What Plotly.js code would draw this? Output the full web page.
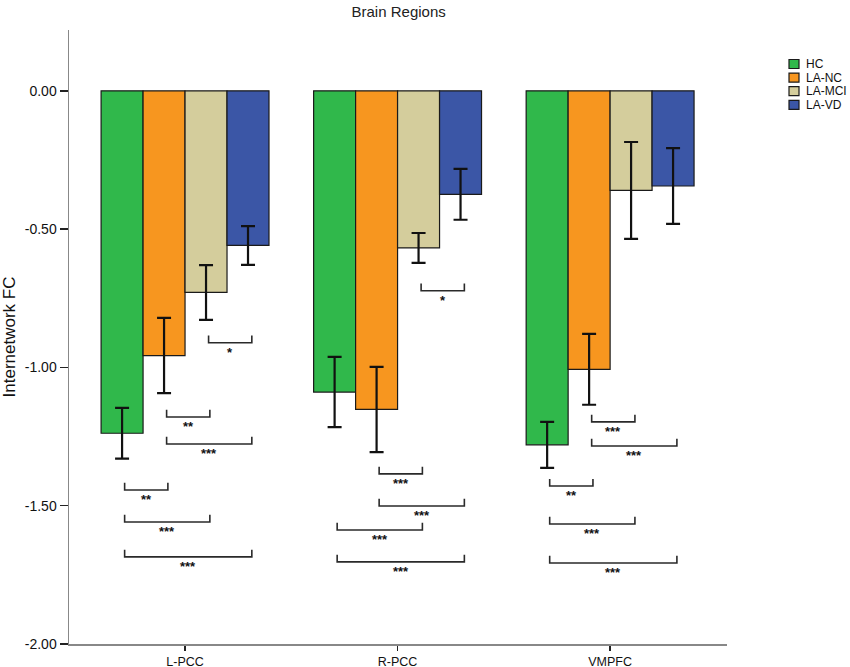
<!DOCTYPE html>
<html>
<head>
<meta charset="utf-8">
<script src="https://cdn.plot.ly/plotly-3.0.1.min.js"></script>
<style>html,body{margin:0;padding:0;background:#fff;}#chart{width:850px;height:667px;}</style>
</head>
<body>
<div id="chart"></div>
<script>
// ---- data ----
const categories = ["L-PCC", "R-PCC", "VMPFC"];
const seriesNames = ["HC", "LA-NC", "LA-MCI", "LA-VD"];
const hcValues    = [-1.238, -1.089, -1.280];
const lancValues  = [-0.957, -1.152, -1.007];
const lamciValues = [-0.729, -0.568, -0.360];
const lavdValues  = [-0.559, -0.374, -0.344];
const hcErr    = [0.092, 0.127, 0.083];
const lancErr  = [0.136, 0.154, 0.128];
const lamciErr = [0.099, 0.054, 0.175];
const lavdErr  = [0.070, 0.092, 0.137];
const yTickVals = [0, -0.5, -1, -1.5, -2];
const yTickText = ["0.00", "-0.50", "-1.00", "-1.50", "-2.00"];
// significance brackets: category index, from series, to series, level, label
const bracketGroup = [0, 0, 0, 0, 0, 0, 1, 1, 1, 1, 1, 2, 2, 2, 2, 2];
const bracketFrom  = [2, 1, 1, 0, 0, 0, 2, 1, 1, 0, 0, 1, 1, 0, 0, 0];
const bracketTo    = [3, 2, 3, 1, 2, 3, 3, 2, 3, 2, 3, 2, 3, 1, 2, 3];
const bracketLevel = [-0.911, -1.179, -1.277, -1.443, -1.559, -1.685,
                      -0.723, -1.385, -1.501, -1.588, -1.703,
                      -1.197, -1.284, -1.429, -1.566, -1.707];
const bracketLabel = ["*", "**", "***", "**", "***", "***",
                      "*", "***", "***", "***", "***",
                      "***", "***", "**", "***", "***"];

// ---- styles ----
const colors = ["#30b84b", "#f7961f", "#d4cd9c", "#3b56a6"];
const values = [hcValues, lancValues, lamciValues, lavdValues];
const errs = [hcErr, lancErr, lamciErr, lavdErr];
const bargap = 0.21;
const barW = (1 - bargap) / 4;
const xIdx = categories.map((c, i) => i);
const FONT = "Arial, Liberation Sans, sans-serif";

const traces = seriesNames.map((name, s) => ({
  type: "bar",
  name: name,
  x: xIdx,
  y: values[s],
  marker: {color: colors[s], line: {color: "#1a1a1a", width: 1.2}},
  error_y: {type: "data", array: errs[s], symmetric: true, color: "#111", thickness: 2.2, width: 7},
  hoverinfo: "skip",
  showlegend: false
}));

function barCenter(g, s) { return g + (s - 1.5) * barW; }

const shapes = [];
const annotations = [];
const tickH = 0.026;
for (let k = 0; k < bracketGroup.length; k++) {
  const x0 = barCenter(bracketGroup[k], bracketFrom[k]) + 0.012;
  const x1 = barCenter(bracketGroup[k], bracketTo[k]) + 0.018;
  const y = bracketLevel[k];
  shapes.push({type: "path", xref: "x", yref: "y",
    path: `M ${x0} ${y + tickH} L ${x0} ${y} L ${x1} ${y} L ${x1} ${y + tickH}`,
    line: {color: "#2a2a2a", width: 1.6}});
  annotations.push({xref: "x", yref: "y", x: (x0 + x1) / 2, y: y, text: "<b>" + bracketLabel[k] + "</b>",
    showarrow: false, yanchor: "top", yshift: 0,
    font: {family: FONT, size: 13, color: "#111"}});
}

// custom legend (paper coordinates)
const plotL = 69, plotW = 658, plotT = 30, plotH = 614;
const px2x = p => (p - plotL) / plotW;
const py2y = p => (plotT + plotH - p) / plotH;
seriesNames.forEach((name, s) => {
  const cy = 64 + s * 13.6;
  shapes.push({type: "rect", xref: "paper", yref: "paper",
    x0: px2x(789), x1: px2x(799), y0: py2y(cy + 4.5), y1: py2y(cy - 4.5),
    fillcolor: colors[s], line: {color: "#1a1a1a", width: 1.2}});
  annotations.push({xref: "paper", yref: "paper", x: px2x(804), y: py2y(cy), text: name,
    showarrow: false, xanchor: "left", yanchor: "middle",
    font: {family: FONT, size: 12, color: "#111"}});
});

const layout = {
  width: 850, height: 667,
  margin: {l: plotL, r: 850 - plotL - plotW, t: plotT, b: 667 - plotT - plotH, autoexpand: false},
  paper_bgcolor: "#fff", plot_bgcolor: "#fff",
  font: {family: FONT, color: "#222"},
  title: {text: "Brain Regions", x: 0.469, xanchor: "center", y: 0.982, yanchor: "middle",
          font: {size: 15, color: "#222"}},
  barmode: "group", bargap: bargap, bargroupgap: 0,
  showlegend: false,
  xaxis: {range: [-0.546, 2.55], tickmode: "array", tickvals: xIdx, ticktext: categories,
          showline: true, linecolor: "#888", linewidth: 1.5, ticks: "outside", ticklen: 5,
          tickcolor: "#222", tickwidth: 1.5, showgrid: false, zeroline: false,
          tickfont: {size: 12.5, color: "#111"}, fixedrange: true},
  yaxis: {range: [-2, 0.22], tickmode: "array", tickvals: yTickVals, ticktext: yTickText,
          showline: true, linecolor: "#888", linewidth: 1.5, ticks: "outside", ticklen: 8,
          tickcolor: "#222", tickwidth: 1.5, showgrid: false, zeroline: false,
          tickfont: {size: 14, color: "#111"},
          title: {text: "Internetwork FC", font: {size: 17, color: "#111"}, standoff: 6},
          fixedrange: true},
  shapes: shapes,
  annotations: annotations
};

Plotly.newPlot("chart", traces, layout, {displayModeBar: false, staticPlot: true});
</script>
</body>
</html>
